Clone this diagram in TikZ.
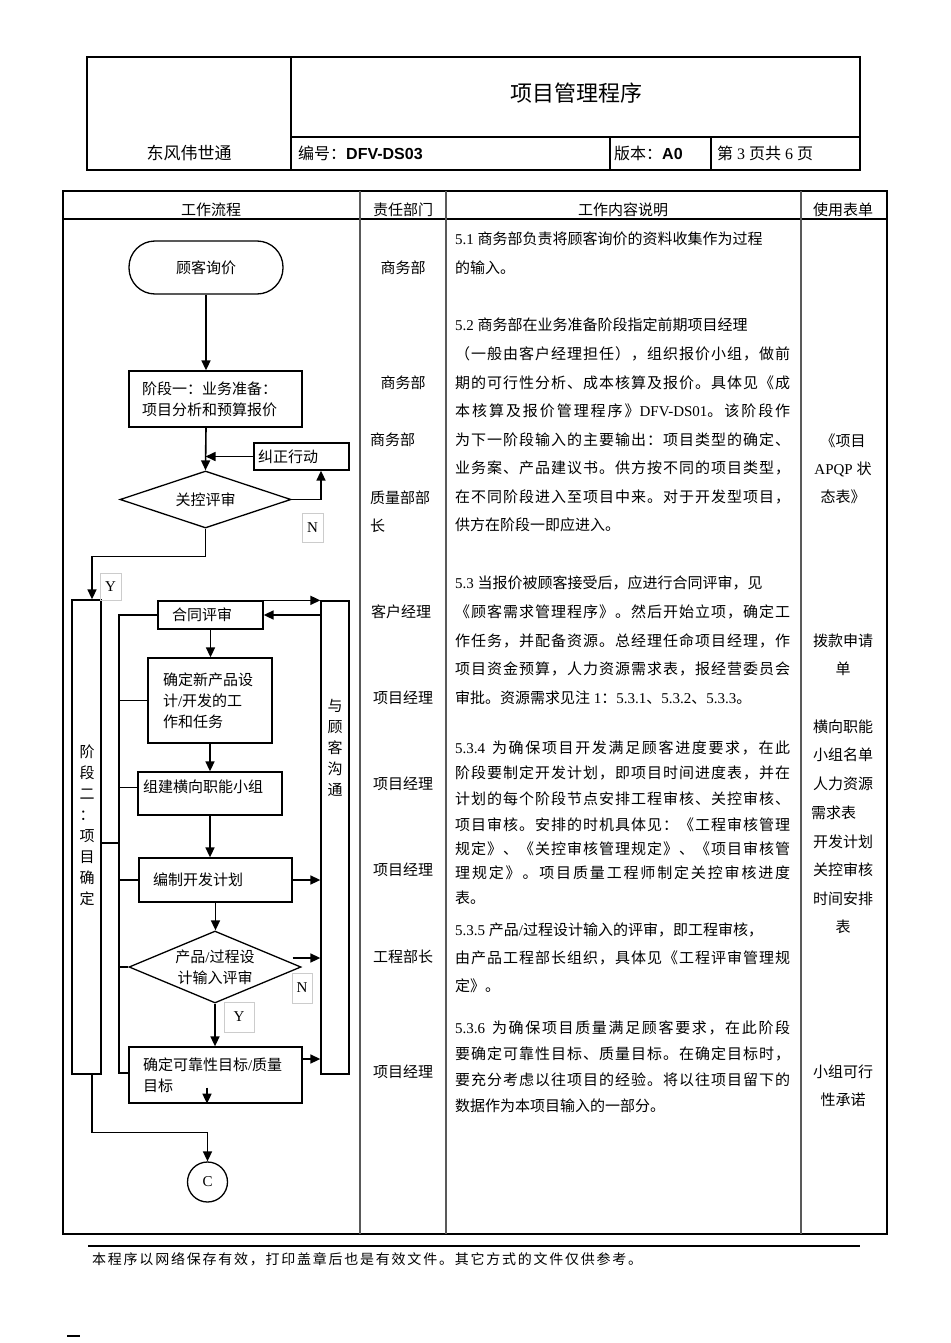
\documentclass[tikz,border=0pt]{standalone}
\usepackage{fontspec}
\setmainfont{Liberation Serif}
\setsansfont{Liberation Sans}
\newfontfamily\cjkfont{Noto Sans CJK SC}
\usetikzlibrary{shapes.geometric,arrows.meta,calc}

% Chinese characters switch to the CJK font by themselves
\XeTeXinterchartokenstate=1
\newXeTeXintercharclass\cjkcls
\newcount\cjkc
\def\cjkrange#1#2{\cjkc=#1\relax
  \loop\ifnum\cjkc<#2\relax\XeTeXcharclass\cjkc=\cjkcls\relax\advance\cjkc by 1\relax\repeat}
\cjkrange{"3000}{"3040}
\cjkrange{"4E00}{"A000}
\cjkrange{"FF00}{"FFF0}
\XeTeXinterchartoks 0 \cjkcls = {\cjkfont}
\XeTeXinterchartoks 4095 \cjkcls = {\cjkfont}
\XeTeXinterchartoks \cjkcls 0 = {\rmfamily}
\XeTeXinterchartoks \cjkcls 4095 = {\rmfamily}
\XeTeXinterchartoks \cjkcls \cjkcls = {\hskip 0pt plus 1pt\relax}

\newcommand{\jl}[1]{\makebox[335pt][s]{#1}}

\tikzset{
  flowbox/.style={draw,line width=1.3pt,rectangle,inner ysep=0pt,align=left,
    font=\fontsize{15}{21}\selectfont},
  termbox/.style={draw,line width=1.3pt,rounded corners=26pt,minimum width=154pt,minimum height=53pt},
  decidebox/.style={draw,line width=1.3pt,diamond,inner sep=0pt,align=center,
    font=\fontsize{15}{21}\selectfont},
  ynbox/.style={draw=black!20,line width=0.6pt,minimum width=21pt,minimum height=29pt,inner sep=0pt},
  barbox/.style={draw,line width=1.3pt,minimum width=29pt,inner sep=0pt},
  vtext/.style={align=center,inner sep=0pt,font=\fontsize{15}{21}\selectfont},
  flowline/.style={line width=1.6pt,->},
  linkline/.style={line width=1.3pt},
  rowtext/.style={anchor=west,inner sep=0pt},
  celltext/.style={inner sep=0pt},
}

\begin{document}
\begin{tikzpicture}[x=1pt,y=-1pt,>={Triangle[length=10pt,width=9pt]},
  font=\fontsize{15}{20}\selectfont]
\useasboundingbox (0,0) rectangle (950,1343);

% page head
\draw[line width=1.6pt] (87,57) rectangle (860,170);
\draw[line width=1.6pt] (291,57) -- (291,170) (291,137) -- (860,137)
  (610,137) -- (610,170) (711,137) -- (711,170);
\node (title) at (576,93) {\fontsize{22}{24}\selectfont 项目管理程序};
\node (firm) at (189,153) {\fontsize{17}{20}\selectfont 东风伟世通};
\node[rowtext] (docno) at (298,153) {\fontsize{16}{18}\selectfont 编号：{\sffamily\bfseries DFV-DS03}};
\node[rowtext] (ver) at (614,153) {\fontsize{16}{18}\selectfont 版本：{\sffamily\bfseries A0}};
\node[rowtext] (page) at (717,153) {\fontsize{16}{18}\selectfont 第 3 页共 6 页};

% table frame
\draw[line width=1.4pt] (63,191) rectangle (887,1234);
\draw[line width=1.4pt] (63,219) -- (887,219);
\draw[line width=1.8pt,black!65] (360,191) -- (360,1234) (446,191) -- (446,1234)
  (801,191) -- (801,1234);
\node (h1) at (211,210) {工作流程};
\node (h2) at (403,210) {责任部门};
\node (h3) at (623,210) {工作内容说明};
\node (h4) at (843,210) {使用表单};

% stage one
\node[termbox] (ask) at (206,267.5) {顾客询价};
\node[flowbox,text width=147pt,inner xsep=13pt,minimum height=56pt] (p1) at (215.5,399)
  {阶段一：业务准备：\\项目分析和预算报价};
\node[decidebox,minimum width=171pt,minimum height=57pt,aspect=3] (rev1) at (205.5,499.5) {关控评审};
\node[flowbox,text width=87pt,inner xsep=4pt,minimum height=27pt] (fix) at (301.5,456.5) {纠正行动};
\node[ynbox] (n1) at (312.5,527.5) {N};
\draw[flowline] (ask.south) -- (ask.south |- p1.north);
\draw[flowline] (ask.south |- p1.south) -- (rev1.north);
\draw[flowline] (fix.west) -- (rev1.north |- fix.west);
\draw[flowline] (rev1.east) -| ([xshift=19.5pt]fix.south);

% stage two
\node[barbox,minimum height=474pt] (p2) at (86.5,837) {};
\node[vtext] (p2txt) at (87,825) {阶\\段\\二\\：\\项\\目\\确\\定};
\node[ynbox,minimum height=27pt] (y1) at (110.5,586.5) {Y};
\draw[flowline] (rev1.south) -- ++(0,28) -| ([xshift=5.5pt]p2.north);

\node[flowbox,text width=77pt,inner xsep=14pt,minimum height=28pt] (cr) at (210.5,615) {合同评审};
\node[barbox,minimum width=28pt,minimum height=473pt] (comm) at (335,837.5) {};
\node[vtext] (commtxt) at (335,748) {与\\顾\\客\\沟\\通};
\node[flowbox,text width=94pt,inner xsep=15pt,minimum height=85pt] (t2) at (210,700.5)
  {确定新产品设\\计/开发的工\\作和任务};
\node[flowbox,text width=134pt,inner xsep=5pt,minimum height=43pt,text depth=14pt] (t3) at (210,793.5)
  {组建横向职能小组};
\node[flowbox,text width=125pt,inner xsep=14pt,minimum height=44pt] (t4) at (215.5,880) {编制开发计划};
\node[decidebox,minimum width=172pt,minimum height=72pt,aspect=2.4] (dia2) at (215,967)
  {产品/过程设\\计输入评审};
\node[ynbox,minimum width=20pt,minimum height=30pt] (n2) at (302,988) {N};
\node[ynbox,minimum width=30pt,minimum height=30pt] (y2) at (239,1017) {Y};
\node[flowbox,text width=145pt,inner xsep=14pt,minimum height=56pt] (t5) at (215.5,1075)
  {确定可靠性目标/质量\\目标};
\node[circle,draw,line width=1.3pt,minimum size=40pt,inner sep=0pt] (cc) at (207.5,1182) {C};

\draw[flowline] (cr.north east) -- (comm.north west);
\draw[flowline] (comm.west |- cr.east) -- (cr.east);
\draw[flowline] (cr.south) -- (cr.south |- t2.north);
\draw[flowline] (t2.south) -- (t2.south |- t3.north);
\draw[flowline] (t3.south) -- (t3.south |- t4.north);
\draw[flowline] (t4.south) -- (t4.south |- dia2.north);
\draw[flowline] (dia2.south) -- (dia2.south |- t5.north);
\draw[flowline] ([xshift=-8.5pt,yshift=16pt]t5.south) -- ([xshift=-8.5pt]t5.south);

% left spine
\coordinate (spT) at (119,615);
\coordinate (spB) at (119,1073);
\draw[linkline] (cr.west) -- (spT) -- (spB) -- (spB -| t5.west);
\draw[linkline] (t2.west) -- (t2.west -| spT)
  ([yshift=6pt]t3.west) -- ([yshift=6pt]t3.west -| spT)
  (t4.west) -- (t4.west -| spT)
  (dia2.west) -- (dia2.west -| spT)
  ([yshift=-6pt]p2.east) -- ([yshift=-6pt]p2.east -| spT);

% right side to the customer bar
\coordinate (d2r) at ([xshift=-9pt,yshift=9pt]dia2.east);
\coordinate (t5r) at ([yshift=16pt]t5.east);
\draw[flowline] (t4.east) -- (t4.east -| comm.west);
\draw[flowline] (d2r) -- (d2r -| comm.west);
\draw[flowline] (t5r) -- (t5r -| comm.west);

\draw[flowline] ([xshift=5.5pt]p2.south) -- ++(0,58) -| (cc.north);

% responsible departments
\node[celltext] (dep1) at (403,268) {商务部};
\node[celltext] (dep2) at (403,383) {商务部};
\node[rowtext] (dep3) at (370,440) {商务部};
\node[rowtext] (dep4) at (370,498) {质量部部};
\node[rowtext] (dep5) at (370,526) {长};
\node[celltext] (dep6) at (401,612) {客户经理};
\node[celltext] (dep7) at (403,698) {项目经理};
\node[celltext] (dep8) at (403,784) {项目经理};
\node[celltext] (dep9) at (403,870) {项目经理};
\node[celltext] (dep10) at (403,957) {工程部长};
\node[celltext] (dep11) at (403,1072) {项目经理};

% description
\foreach \y/\t [count=\i] in {
  239/{5.1 商务部负责将顾客询价的资料收集作为过程},
  268/{的输入。},
  325/{5.2 商务部在业务准备阶段指定前期项目经理},
  354/{\jl{（一般由客户经理担任），组织报价小组，做前}},
  383/{\jl{期的可行性分析、成本核算及报价。具体见《成}},
  411/{\jl{本核算及报价管理程序》DFV-DS01。该阶段作}},
  440/{\jl{为下一阶段输入的主要输出：项目类型的确定、}},
  468/{\jl{业务案、产品建议书。供方按不同的项目类型，}},
  497/{\jl{在不同阶段进入至项目中来。对于开发型项目，}},
  525/{供方在阶段一即应进入。},
  583/{5.3 当报价被顾客接受后，应进行合同评审，见},
  612/{\jl{《顾客需求管理程序》。然后开始立项，确定工}},
  641/{\jl{作任务，并配备资源。总经理任命项目经理，作}},
  669/{\jl{项目资金预算，人力资源需求表，报经营委员会}},
  698/{审批。资源需求见注 1：5.3.1、5.3.2、5.3.3。},
  748/{\jl{5.3.4 为确保项目开发满足顾客进度要求，在此}},
  773/{\jl{阶段要制定开发计划，即项目时间进度表，并在}},
  799/{\jl{计划的每个阶段节点安排工程审核、关控审核、}},
  825/{\jl{项目审核。安排的时机具体见：《工程审核管理}},
  849/{\jl{规定》、《关控审核管理规定》、《项目审核管}},
  873/{\jl{理规定》。项目质量工程师制定关控审核进度}},
  898/{表。},
  930/{5.3.5 产品/过程设计输入的评审，即工程审核，},
  958/{\jl{由产品工程部长组织，具体见《工程评审管理规}},
  986/{定》。},
  1028/{\jl{5.3.6 为确保项目质量满足顾客要求，在此阶段}},
  1054/{\jl{要确定可靠性目标、质量目标。在确定目标时，}},
  1080/{\jl{要充分考虑以往项目的经验。将以往项目留下的}},
  1106/{数据作为本项目输入的一部分。}}
  \node[rowtext] (desc\i) at (455,\y) {\t};

% forms used
\foreach \y/\t [count=\i] in {441/《项目, 469/APQP 状, 497/态表》, 641/拨款申请, 669/单,
  727/横向职能, 755/小组名单, 784/人力资源, 842/开发计划, 870/关控审核,
  899/时间安排, 927/表, 1072/小组可行, 1100/性承诺}
  \node[celltext] (form\i) at (843,\y) {\t};
\node[rowtext] (form15) at (811,813) {需求表};

% foot
\draw[line width=1.6pt] (88,1246) -- (860,1246);
\node[rowtext] (foot) at (92,1259)
  {\fontsize{14}{16}\selectfont\makebox[550pt][s]{本程序以网络保存有效，打印盖章后也是有效文件。其它方式的文件仅供参考。}};
\draw[line width=2pt] (67,1336) -- (80,1336);
\end{tikzpicture}
\end{document}
